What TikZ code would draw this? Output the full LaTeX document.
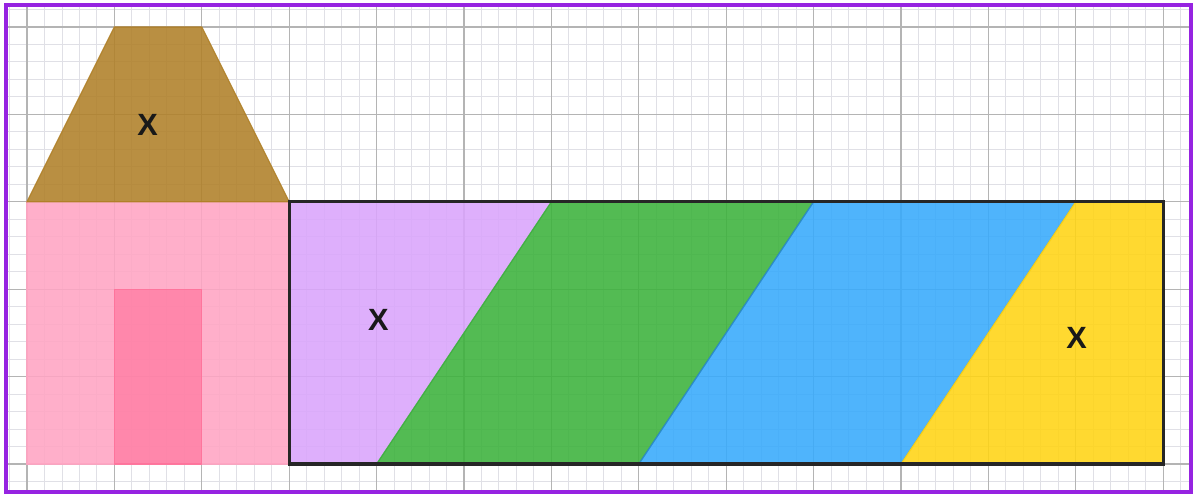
\documentclass[tikz,border=0pt]{standalone}
\usepackage{fontspec}
\setmainfont{Liberation Sans}
\definecolor{framepurple}{RGB}{150,35,225}
\definecolor{gridmajor}{RGB}{180,180,180}
\definecolor{gridminor}{RGB}{224,224,230}
\definecolor{pinkwall}{RGB}{255,165,195}
\definecolor{pinkdoor}{RGB}{255,115,155}
\definecolor{roofbrown}{RGB}{176,128,40}
\definecolor{lav}{RGB}{218,165,252}
\definecolor{grn}{RGB}{60,178,60}
\definecolor{blu}{RGB}{55,170,252}
\definecolor{yel}{RGB}{255,212,20}
\tikzset{
  region/.style={fill opacity=0.88, draw opacity=0.9, line width=0.4pt},
  lbl/.style={font=\fontsize{10}{12}\selectfont\bfseries, text=black!90},
}
\begin{document}
\begin{tikzpicture}
\useasboundingbox (-0.309,-0.355) rectangle (13.341,5.309);
\fill[white] (-0.309,-0.355) rectangle (13.341,5.309);
% grid
\begin{scope}
\clip (-0.24,-0.32) rectangle (13.32,5.25);
\draw[gridminor, line width=0.3pt, step=0.2] (-0.4,-0.4) grid (13.4,5.4);
\draw[gridmajor, line width=0.35pt, step=1] (-0.4,-0.4) grid (13.4,5.4);
\end{scope}
% house
\path[region, fill=pinkwall, draw=pinkwall] (0,0) rectangle (3,3);
\path[region, fill=pinkdoor, draw=pinkdoor, fill opacity=0.65] (1,0) rectangle (2,2);
\path[region, fill=roofbrown, draw=roofbrown] (0,3) -- (3,3) -- (2,5) -- (1,5) -- cycle;
\node[lbl] (xroof) at (1.38,3.88) {X};
% parallelogram strip
\path[region, fill=lav, draw=lav] (3,0) -- (4,0) -- (6,3) -- (3,3) -- cycle;
\path[region, fill=grn, draw=grn] (4,0) -- (7,0) -- (9,3) -- (6,3) -- cycle;
\path[region, fill=blu, draw=blu!80!black] (7,0) -- (10,0) -- (12,3) -- (9,3) -- cycle;
\path[region, fill=yel, draw=yel] (10,0) -- (13,0) -- (13,3) -- (12,3) -- cycle;
\draw[black!85, line width=1.1pt] (3,0) rectangle (13,3);
\node[lbl] (xlav) at (4.02,1.65) {X};
\node[lbl] (xyel) at (12.01,1.44) {X};
% frame
\draw[framepurple, line width=1.3pt] (-0.24,-0.32) rectangle (13.32,5.25);
\end{tikzpicture}
\end{document}
